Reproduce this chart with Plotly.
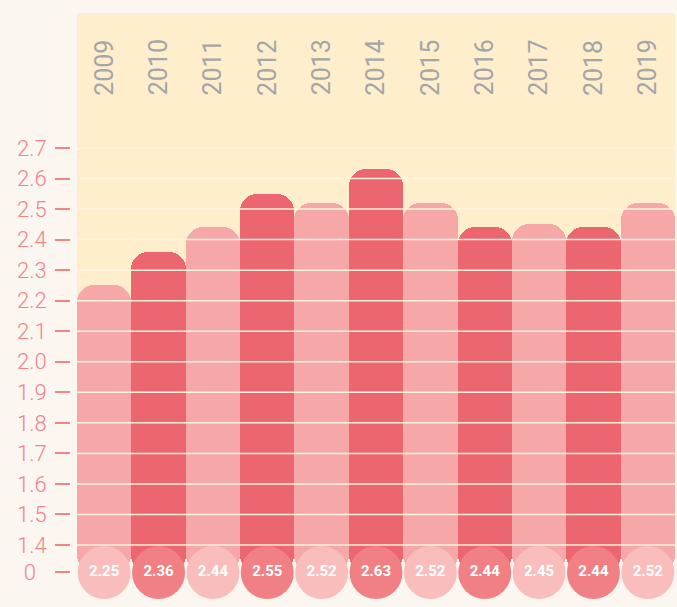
import plotly.graph_objects as go

# Average values per year
years = ["2009", "2010", "2011", "2012", "2013", "2014", "2015", "2016", "2017", "2018", "2019"]
values = [2.25, 2.36, 2.44, 2.55, 2.52, 2.63, 2.52, 2.44, 2.45, 2.44, 2.52]

# y-axis ticks (broken axis: 0 sits just below 1.4)
tick_values = [1.4, 1.5, 1.6, 1.7, 1.8, 1.9, 2.0, 2.1, 2.2, 2.3, 2.4, 2.5, 2.6, 2.7]
tick_labels = ["1.4", "1.5", "1.6", "1.7", "1.8", "1.9", "2.0", "2.1", "2.2", "2.3", "2.4", "2.5", "2.6", "2.7"]
zero_label = "0"

ZERO_POS = 1.31          # where "0" is drawn on the broken axis
Y_RANGE = [1.197, 3.142]

PAPER = "#fcf6f0"
PLOT_YELLOW = "#ffeecb"
LIGHT_BAR, DARK_BAR = "#f6a8a8", "#ec6670"
LIGHT_DOT, DARK_DOT = "#f9bebc", "#f08083"
GRID = "#fff3de"
PINK_TEXT = "#f0848a"
YEAR_GRAY = "#a4a6a9"

idx = list(range(len(years)))
bar_colors = [LIGHT_BAR if i % 2 == 0 else DARK_BAR for i in idx]
dot_colors = [LIGHT_DOT if i % 2 == 0 else DARK_DOT for i in idx]

fig = go.Figure()

fig.add_trace(go.Bar(
    x=idx,
    y=[v - ZERO_POS for v in values],
    base=ZERO_POS,
    width=1,
    marker=dict(color=bar_colors, line=dict(width=0), cornerradius="32%"),
    hoverinfo="skip",
    showlegend=False,
))

fig.add_trace(go.Scatter(
    x=idx,
    y=[ZERO_POS] * len(years),
    mode="markers+text",
    marker=dict(size=53, color=dot_colors, line=dict(width=0)),
    text=[f"{v:.2f}" for v in values],
    textposition="middle center",
    textfont=dict(family="Roboto", size=15, color="white", weight="bold"),
    hoverinfo="skip",
    showlegend=False,
    cliponaxis=False,
))

shapes = [
    dict(type="rect", xref="x domain", yref="y", x0=0, x1=1, y0=1.4, y1=Y_RANGE[1],
         fillcolor=PLOT_YELLOW, line=dict(width=0), layer="below"),
]
for tv in tick_values:
    shapes.append(dict(type="line", xref="x domain", yref="y", x0=0, x1=1, y0=tv, y1=tv,
                       line=dict(color=GRID, width=1.5), layer="above"))

annotations = [
    dict(x=i, y=0.908, xref="x", yref="paper", text=yr, showarrow=False, textangle=-90,
         xanchor="center", yanchor="middle",
         font=dict(family="Roboto", size=25, color=YEAR_GRAY))
    for i, yr in zip(idx, years)
]

fig.update_layout(
    width=677, height=607,
    margin=dict(l=70, r=2, t=13, b=0),
    paper_bgcolor=PAPER,
    plot_bgcolor=PAPER,
    bargap=0,
    shapes=shapes,
    annotations=annotations,
    xaxis=dict(domain=[7 / 605, 1], range=[-0.5, len(years) - 0.5],
               showticklabels=False, showgrid=False, zeroline=False, ticks=""),
    yaxis=dict(range=Y_RANGE, anchor="free", position=0,
               tickvals=[ZERO_POS] + tick_values,
               ticktext=[zero_label + "\u00a0\u00a0"] + tick_labels,
               ticks="outside", ticklen=15, tickwidth=1.5, tickcolor=PINK_TEXT,
               ticklabelstandoff=4,
               tickfont=dict(family="Roboto", size=22, color=PINK_TEXT, weight=300),
               showgrid=False, zeroline=False, showline=False),
)

fig.write_html("out.html")
